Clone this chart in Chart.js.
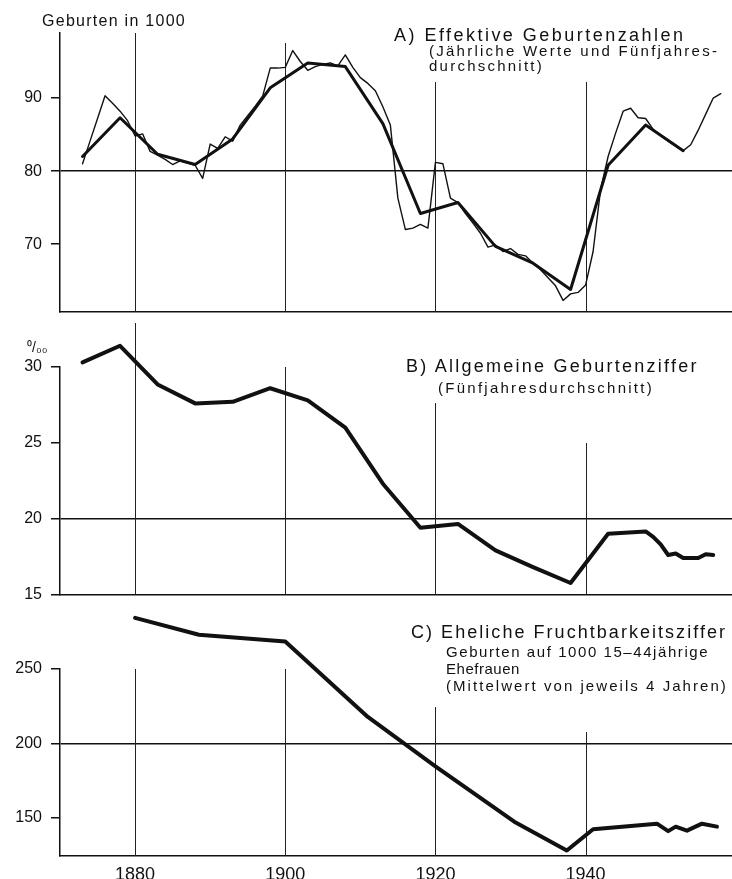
<!DOCTYPE html>
<html>
<head>
<meta charset="utf-8">
<script src="https://cdn.jsdelivr.net/npm/chart.js@4.4.1/dist/chart.umd.min.js"></script>
<style>
  html, body { margin: 0; padding: 0; background: #fff; }
  #wrap { position: relative; width: 732px; height: 879px; overflow: hidden; background: #fff; }
  canvas { position: absolute; left: 0; }
  .t { position: absolute; white-space: nowrap; font-family: "Liberation Sans", Arial, sans-serif; color: #111; line-height: 1; }
  .h { font-size: 18px; }
  .s { font-size: 15px; }
</style>
</head>
<body>
<div id="wrap">
  <canvas id="cA" width="732" height="330" style="top:0"></canvas>
  <canvas id="cB" width="732" height="290" style="top:323px"></canvas>
  <canvas id="cC" width="732" height="279" style="top:600px"></canvas>

  <span class="t" style="left:42px;top:13px;font-size:16px" data-w="144">Geburten in 1000</span>
  <span class="t h" style="left:394px;top:26px" data-w="294">A)  Effektive Geburtenzahlen</span>
  <span class="t s" style="left:429px;top:43px" data-w="290">(Jährliche Werte und Fünfjahres-</span>
  <span class="t s" style="left:429px;top:58px" data-w="115">durchschnitt)</span>

  <span class="t" style="left:27px;top:340px;font-size:14px">⁰/₀₀</span>
  <span class="t h" style="left:406px;top:357px" data-w="295">B)  Allgemeine Geburtenziffer</span>
  <span class="t s" style="left:438px;top:380px" data-w="216">(Fünfjahresdurchschnitt)</span>

  <span class="t h" style="left:411px;top:623px" data-w="318">C)  Eheliche Fruchtbarkeitsziffer</span>
  <span class="t s" style="left:446px;top:644px" data-w="263">Geburten auf 1000 15–44jährige</span>
  <span class="t s" style="left:446px;top:661px" data-w="74">Ehefrauen</span>
  <span class="t s" style="left:446px;top:678px" data-w="282">(Mittelwert von jeweils 4 Jahren)</span>
</div>
<script>
// shared x axis
const xTicks = [1880, 1900, 1920, 1940];

// A) births in 1000, annual values
const yearsA = [1873, 1874, 1875, 1876, 1877, 1878, 1879, 1880, 1881, 1882,
  1883, 1884, 1885, 1886, 1887, 1888, 1889, 1890, 1891, 1892,
  1893, 1894, 1895, 1896, 1897, 1898, 1899, 1900, 1901, 1902,
  1903, 1904, 1905, 1906, 1907, 1908, 1909, 1910, 1911, 1912,
  1913, 1914, 1915, 1916, 1917, 1918, 1919, 1920, 1921, 1922,
  1923, 1924, 1925, 1926, 1927, 1928, 1929, 1930, 1931, 1932,
  1933, 1934, 1935, 1936, 1937, 1938, 1939, 1940, 1941, 1942,
  1943, 1944, 1945, 1946, 1947, 1948, 1949, 1950, 1951, 1952,
  1953, 1954, 1955, 1956, 1957, 1958];
const birthsA = [81.0, 84.1, 87.2, 90.3, 89.3, 88.2, 86.9, 84.8, 85.1, 82.7,
  82.2, 81.6, 80.9, 81.4, 81.1, 80.8, 79.0, 83.7, 83.1, 84.7,
  84.1, 86.3, 87.6, 88.9, 90.3, 94.1, 94.1, 94.2, 96.5, 95.0,
  93.8, 94.3, 94.6, 94.8, 94.4, 95.9, 94.2, 92.8, 92.0, 91.0,
  88.8, 86.3, 76.3, 72.0, 72.2, 72.7, 72.2, 81.2, 81.0, 76.3,
  75.7, 74.2, 72.9, 71.5, 69.6, 69.9, 69.0, 69.4, 68.6, 68.4,
  67.4, 66.5, 65.4, 64.3, 62.3, 63.2, 63.4, 64.4, 69.0, 77.5,
  82.0, 85.2, 88.2, 88.6, 87.3, 87.2, 85.7, 84.9, 84.1, 83.4,
  82.8, 83.6, 85.6, 87.8, 90.0, 90.6];
// A) five-year averages
const avgYearsA = [1873, 1878, 1883, 1888, 1893, 1898, 1903, 1908, 1913,
  1918, 1923, 1928, 1933, 1938, 1943, 1948, 1953];
const avgBirthsA = [82.0, 87.3, 82.3, 80.9, 84.4, 91.4, 94.8, 94.3, 86.5,
  74.2, 75.7, 69.7, 67.4, 63.8, 80.8, 86.3, 82.8];
const ticksA = [70, 80, 90];

// B) general birth rate per mille
const yearsB = [1873, 1878, 1883, 1888, 1893, 1898, 1903, 1908, 1913, 1918,
  1923, 1928, 1933, 1938, 1943, 1948, 1949, 1950, 1951, 1952,
  1953, 1954, 1955, 1956, 1957];
const rateB = [30.3, 31.4, 28.85, 27.6, 27.7, 28.6, 27.8, 26.0, 22.3, 19.4,
  19.65, 17.9, 16.8, 15.75, 19.0, 19.15, 18.8, 18.3, 17.6, 17.7,
  17.4, 17.4, 17.4, 17.65, 17.6];
const ticksB = [15, 20, 25, 30];

// C) marital fertility, births per 1000 wives aged 15-44
const yearsC = [1880, 1888.5, 1900, 1911, 1920, 1930.5, 1937.5, 1941,
  1949.5, 1951, 1952, 1953.5, 1955.5, 1957.5];
const fertC = [284.3, 273.0, 268.4, 217.8, 184.7, 147.5, 128.2, 142.5,
  146.2, 141.2, 144.2, 141.5, 146.2, 144.2];
const ticksC = [150, 200, 250];

const ink = "#111";
const family = "Liberation Sans";

function pts(xs, ys) {
  return xs.map((x, i) => ({ x: x, y: ys[i] }));
}

// vertical year lines; each may start lower than the plot top (text above)
const vlines = {
  id: "vlines",
  beforeDatasetsDraw(chart, args, opts) {
    const { ctx, chartArea, scales } = chart;
    ctx.save();
    ctx.strokeStyle = "#222";
    ctx.lineWidth = 1;
    xTicks.forEach((yr, i) => {
      const px = Math.round(scales.x.getPixelForValue(yr)) + 0.5;
      const top = opts.tops[i] === null ? 0 : chartArea.top + opts.tops[i];
      ctx.beginPath();
      ctx.moveTo(px, top);
      ctx.lineTo(px, chartArea.bottom);
      ctx.stroke();
    });
    ctx.restore();
  }
};

function panel(id, datasets, yMin, yMax, yTicks, gridAt, tops, pad, showX) {
  return new Chart(document.getElementById(id), {
    type: "line",
    data: { datasets: datasets },
    plugins: [vlines],
    options: {
      responsive: false,
      animation: false,
      devicePixelRatio: 1,
      layout: { padding: pad },
      plugins: {
        legend: { display: false },
        tooltip: { enabled: false },
        vlines: { tops: tops }
      },
      elements: {
        point: { radius: 0 },
        line: { tension: 0, borderJoinStyle: "round", borderCapStyle: "round" }
      },
      scales: {
        x: {
          type: "linear",
          min: 1870,
          max: 1959.5,
          afterBuildTicks: s => { s.ticks = xTicks.map(v => ({ value: v })); },
          afterFit: s => { s.height = showX ? 23 : 0; },
          grid: { display: false, drawTicks: false },
          border: { display: true, color: ink, width: 1.5 },
          ticks: {
            display: showX, padding: 8, color: ink, maxRotation: 0, autoSkip: false,
            font: { family: family, size: 18 },
            callback: v => String(v)
          }
        },
        y: {
          min: yMin,
          max: yMax,
          afterBuildTicks: s => { s.ticks = yTicks.map(v => ({ value: v })); },
          afterFit: s => { s.width = 60; },
          grid: {
            color: c => (c.tick && c.tick.value === gridAt) ? ink : "rgba(0,0,0,0)",
            tickColor: ink,
            tickLength: 9,
            lineWidth: 1.5
          },
          border: { display: true, color: ink, width: 1.5 },
          ticks: {
            padding: 9, color: ink,
            font: { family: family, size: 16 },
            callback: v => String(v)
          }
        }
      }
    }
  });
}

panel("cA", [
  { data: pts(yearsA, birthsA), borderColor: ink, borderWidth: 1.4, clip: false },
  { data: pts(avgYearsA, avgBirthsA), borderColor: ink, borderWidth: 3, clip: false }
], 60.8, 98.9, ticksA, 80, [0, 10, 49, 49], { top: 33, bottom: 7, left: 0, right: 0 }, false);

panel("cB", [
  { data: pts(yearsB, rateB), borderColor: ink, borderWidth: 4, clip: false }
], 15, 30, ticksB, 20, [null, 0, 36, 76], { top: 44, bottom: 10, left: 0, right: 0 }, false);

panel("cC", [
  { data: pts(yearsC, fertC), borderColor: ink, borderWidth: 4, clip: false }
], 124.5, 250, ticksC, 200, [0, 0, 38, 63], { top: 69, bottom: 0, left: 0, right: 0 }, true);

// stretch the wide-set captions to the widths they take in the print
document.querySelectorAll("[data-w]").forEach(el => {
  const target = +el.dataset.w;
  const n = el.textContent.length;
  const natural = el.getBoundingClientRect().width;
  el.style.letterSpacing = ((target - natural) / n).toFixed(2) + "px";
});
</script>
</body>
</html>
